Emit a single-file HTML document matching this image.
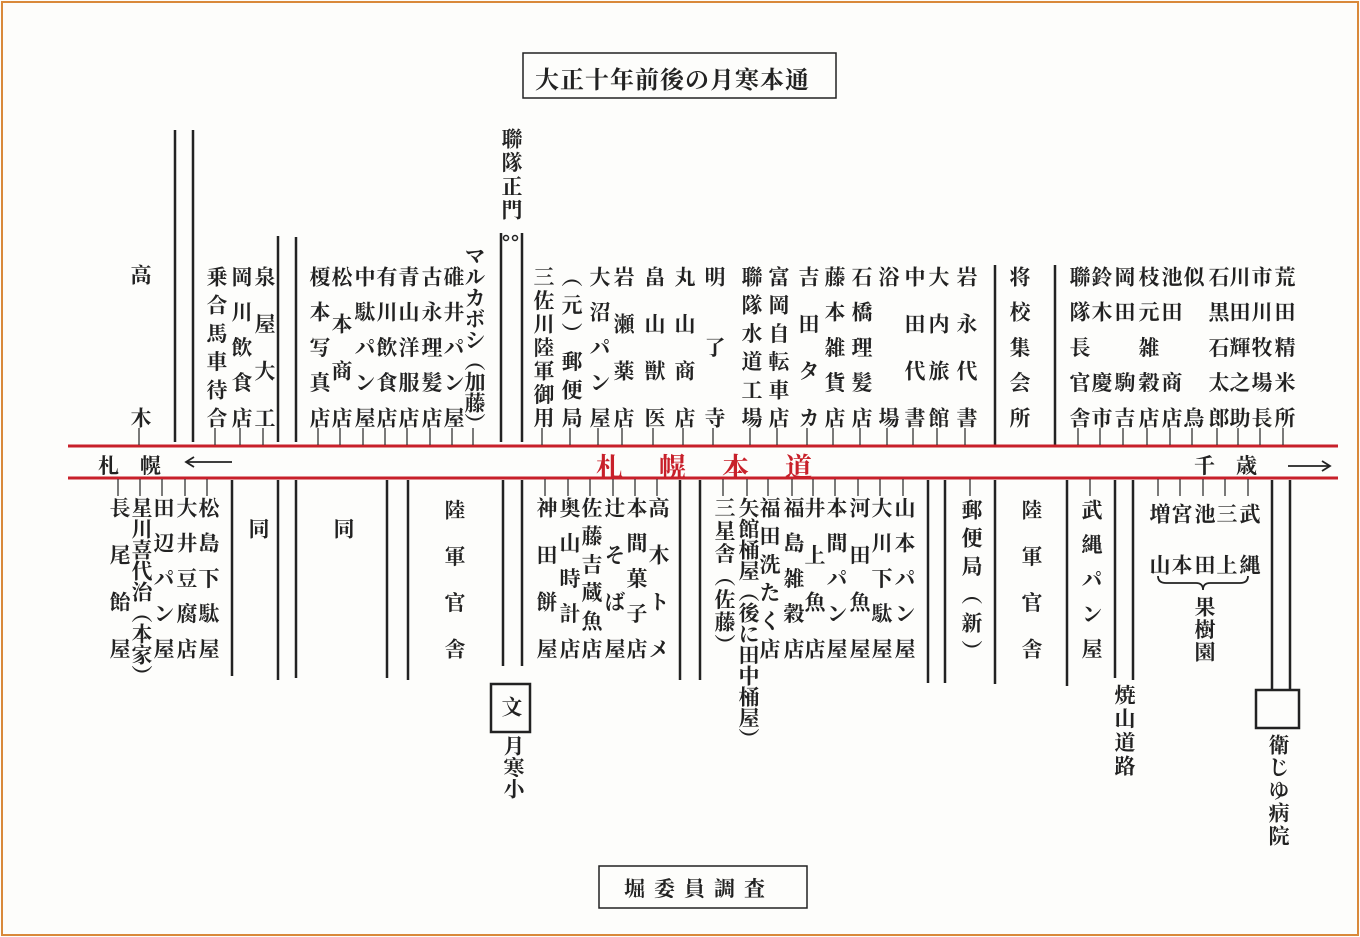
<!DOCTYPE html>
<html><head><meta charset="utf-8">
<style>
html,body{margin:0;padding:0;background:#fff;}
#p{position:relative;width:1360px;height:937px;overflow:hidden;background:#fdfdfb;}
#bd{position:absolute;left:1px;top:1px;width:1354px;height:931px;border:2px solid #d9893a;}
.c{position:absolute;writing-mode:vertical-rl;width:24px;font-family:"Liberation Serif","Noto Serif CJK SC",serif;font-size:21px;line-height:24px;font-weight:700;color:#222;text-align:justify;text-align-last:justify;white-space:nowrap;}
.t{position:absolute;font-family:"Liberation Serif","Noto Serif CJK SC",serif;color:#222;font-weight:700;white-space:nowrap;}
svg{position:absolute;left:0;top:0;}
</style></head><body><div id="p">
<div id="bd"></div>
<svg width="1360" height="937">
<g stroke="#222" stroke-width="2.5" fill="none">
<rect x="523" y="53" width="313" height="45" stroke-width="1.5"/>
<rect x="599" y="866" width="208" height="42" stroke-width="1.5"/>
<line x1="175" y1="130" x2="175" y2="442"/>
<line x1="193" y1="130" x2="193" y2="442"/>
<line x1="278" y1="236" x2="278" y2="442"/>
<line x1="296" y1="237" x2="296" y2="442"/>
<line x1="501" y1="233" x2="501" y2="442"/>
<line x1="522" y1="233" x2="522" y2="442"/>
<line x1="995" y1="265" x2="995" y2="445"/>
<line x1="1055" y1="265" x2="1055" y2="445"/>
<line x1="232" y1="480" x2="232" y2="676"/>
<line x1="278" y1="480" x2="278" y2="680"/>
<line x1="296" y1="480" x2="296" y2="678"/>
<line x1="387" y1="480" x2="387" y2="678"/>
<line x1="408" y1="480" x2="408" y2="680"/>
<line x1="503" y1="480" x2="503" y2="666"/>
<line x1="522" y1="480" x2="522" y2="666"/>
<line x1="680" y1="480" x2="680" y2="680"/>
<line x1="700" y1="480" x2="700" y2="680"/>
<line x1="928" y1="480" x2="928" y2="683"/>
<line x1="945" y1="480" x2="945" y2="683"/>
<line x1="995" y1="480" x2="995" y2="684"/>
<line x1="1067" y1="480" x2="1067" y2="686"/>
<line x1="1115" y1="480" x2="1115" y2="678"/>
<line x1="1133" y1="480" x2="1133" y2="680"/>
<line x1="1272" y1="480" x2="1272" y2="690"/>
<line x1="1290" y1="480" x2="1290" y2="690"/>
<rect x="491" y="684" width="39" height="48"/>
<rect x="1256" y="690" width="43" height="38"/>
<path d="M1158 576 q0 7 8 7 h30 q7 0 7 7 q0 -7 7 -7 h30 q8 0 8 -7" stroke-width="1.8"/>
</g>
<circle cx="506" cy="238" r="2.5" fill="none" stroke="#222" stroke-width="1.5"/>
<circle cx="515" cy="238" r="2.5" fill="none" stroke="#222" stroke-width="1.5"/>
<line x1="68" y1="446" x2="1338" y2="446" stroke="#c8202a" stroke-width="3"/>
<line x1="68" y1="478" x2="1338" y2="478" stroke="#c8202a" stroke-width="3"/>
<g stroke="#222" stroke-width="1.8" fill="none">
<line x1="186" y1="462" x2="232" y2="462"/><path d="M194 457 L186 462 L194 467"/>
<line x1="1288" y1="466" x2="1330" y2="466"/><path d="M1322 461 L1330 466 L1322 471"/>
</g>
<g stroke="#333" stroke-width="1.3">
<line x1="139" y1="428" x2="139" y2="445"/><line x1="215" y1="428" x2="215" y2="445"/><line x1="240" y1="428" x2="240" y2="445"/><line x1="263" y1="428" x2="263" y2="445"/>
<line x1="318" y1="428" x2="318" y2="445"/><line x1="340" y1="428" x2="340" y2="445"/><line x1="363" y1="428" x2="363" y2="445"/><line x1="385" y1="428" x2="385" y2="445"/><line x1="407" y1="428" x2="407" y2="445"/><line x1="430" y1="428" x2="430" y2="445"/><line x1="452" y1="428" x2="452" y2="445"/><line x1="473" y1="428" x2="473" y2="445"/>
<line x1="542" y1="428" x2="542" y2="445"/><line x1="570" y1="428" x2="570" y2="445"/><line x1="598" y1="428" x2="598" y2="445"/><line x1="622" y1="428" x2="622" y2="445"/><line x1="653" y1="428" x2="653" y2="445"/><line x1="683" y1="428" x2="683" y2="445"/><line x1="713" y1="428" x2="713" y2="445"/><line x1="750" y1="428" x2="750" y2="445"/><line x1="777" y1="428" x2="777" y2="445"/><line x1="807" y1="428" x2="807" y2="445"/><line x1="833" y1="428" x2="833" y2="445"/><line x1="860" y1="428" x2="860" y2="445"/><line x1="887" y1="428" x2="887" y2="445"/><line x1="913" y1="428" x2="913" y2="445"/><line x1="937" y1="428" x2="937" y2="445"/><line x1="965" y1="428" x2="965" y2="445"/>
<line x1="1078" y1="428" x2="1078" y2="445"/><line x1="1100" y1="428" x2="1100" y2="445"/><line x1="1123" y1="428" x2="1123" y2="445"/><line x1="1147" y1="428" x2="1147" y2="445"/><line x1="1170" y1="428" x2="1170" y2="445"/><line x1="1192" y1="428" x2="1192" y2="445"/><line x1="1217" y1="428" x2="1217" y2="445"/><line x1="1238" y1="428" x2="1238" y2="445"/><line x1="1260" y1="428" x2="1260" y2="445"/><line x1="1283" y1="428" x2="1283" y2="445"/>
<line x1="118" y1="479" x2="118" y2="496"/><line x1="140" y1="479" x2="140" y2="496"/><line x1="162" y1="479" x2="162" y2="496"/><line x1="185" y1="479" x2="185" y2="496"/><line x1="207" y1="479" x2="207" y2="496"/>
<line x1="545" y1="479" x2="545" y2="496"/><line x1="568" y1="479" x2="568" y2="496"/><line x1="590" y1="479" x2="590" y2="496"/><line x1="613" y1="479" x2="613" y2="496"/><line x1="635" y1="479" x2="635" y2="496"/><line x1="657" y1="479" x2="657" y2="496"/>
<line x1="723" y1="479" x2="723" y2="496"/><line x1="747" y1="479" x2="747" y2="496"/><line x1="768" y1="479" x2="768" y2="496"/><line x1="792" y1="479" x2="792" y2="496"/><line x1="813" y1="479" x2="813" y2="496"/><line x1="835" y1="479" x2="835" y2="496"/><line x1="858" y1="479" x2="858" y2="496"/><line x1="880" y1="479" x2="880" y2="496"/><line x1="903" y1="479" x2="903" y2="496"/>
<line x1="970" y1="479" x2="970" y2="496"/><line x1="1090" y1="479" x2="1090" y2="496"/>
<line x1="1158" y1="479" x2="1158" y2="496"/><line x1="1180" y1="479" x2="1180" y2="496"/><line x1="1203" y1="479" x2="1203" y2="496"/><line x1="1225" y1="479" x2="1225" y2="496"/><line x1="1248" y1="479" x2="1248" y2="496"/>
</g>
</svg>

<div class="t" style="left:535px;top:60px;font-size:24px;letter-spacing:1px;">大正十年前後の月寒本通</div>
<div class="t" style="left:624px;top:873px;font-size:21px;letter-spacing:9px;">堀委員調査</div>
<div class="t" style="left:98px;top:450px;font-size:21px;">札　幌</div>
<div class="t" style="left:596px;top:446px;font-size:27px;color:#c8202a;font-weight:700;letter-spacing:36px;">札幌本道</div>
<div class="t" style="left:1194px;top:450px;font-size:21px;">千　歳</div>

<div class="c" style="left:128px;top:264px;height:164px">高木</div>
<div class="c" style="left:204px;top:266px;height:162px">乗合馬車待合</div>
<div class="c" style="left:229px;top:266px;height:162px">岡川飲食店</div>
<div class="c" style="left:252px;top:266px;height:162px">泉屋大工</div>
<div class="c" style="left:307px;top:266px;height:162px">榎本写真店</div>
<div class="c" style="left:329px;top:266px;height:162px">松本商店</div>
<div class="c" style="left:352px;top:266px;height:162px">中駄パン屋</div>
<div class="c" style="left:374px;top:266px;height:162px">有川飲食店</div>
<div class="c" style="left:396px;top:266px;height:162px">青山洋服店</div>
<div class="c" style="left:419px;top:266px;height:162px">古永理髪店</div>
<div class="c" style="left:441px;top:266px;height:162px">碓井パン屋</div>
<div class="c" style="left:462px;top:245px;height:182px">マルカボシ（加藤）</div>
<div class="c" style="left:499px;top:128px;height:92px">聯隊正門</div>
<div class="c" style="left:531px;top:266px;height:162px">三佐川陸軍御用</div>
<div class="c" style="left:559px;top:266px;height:162px">（元）郵便局</div>
<div class="c" style="left:587px;top:266px;height:162px">大沼パン屋</div>
<div class="c" style="left:611px;top:266px;height:162px">岩瀬薬店</div>
<div class="c" style="left:642px;top:266px;height:162px">畠山獣医</div>
<div class="c" style="left:672px;top:266px;height:162px">丸山商店</div>
<div class="c" style="left:702px;top:266px;height:162px">明了寺</div>
<div class="c" style="left:739px;top:266px;height:162px">聯隊水道工場</div>
<div class="c" style="left:766px;top:266px;height:162px">富岡自転車店</div>
<div class="c" style="left:796px;top:266px;height:162px">吉田タカ</div>
<div class="c" style="left:822px;top:266px;height:162px">藤本雑貨店</div>
<div class="c" style="left:849px;top:266px;height:162px">石橋理髪店</div>
<div class="c" style="left:876px;top:266px;height:162px">浴場</div>
<div class="c" style="left:902px;top:266px;height:162px">中田代書</div>
<div class="c" style="left:926px;top:266px;height:162px">大内旅館</div>
<div class="c" style="left:954px;top:266px;height:162px">岩永代書</div>
<div class="c" style="left:1007px;top:266px;height:162px">将校集会所</div>
<div class="c" style="left:1067px;top:266px;height:162px">聯隊長官舎</div>
<div class="c" style="left:1089px;top:266px;height:162px">鈴木　慶市</div>
<div class="c" style="left:1112px;top:266px;height:162px">岡田　駒吉</div>
<div class="c" style="left:1136px;top:266px;height:162px">枝元雑穀店</div>
<div class="c" style="left:1159px;top:266px;height:162px">池田　商店</div>
<div class="c" style="left:1181px;top:266px;height:162px">似鳥</div>
<div class="c" style="left:1206px;top:266px;height:162px">石黒石太郎</div>
<div class="c" style="left:1227px;top:266px;height:162px">川田輝之助</div>
<div class="c" style="left:1249px;top:266px;height:162px">市川牧場長</div>
<div class="c" style="left:1272px;top:266px;height:162px">荒田精米所</div>

<div class="c" style="left:107px;top:497px;height:162px">長尾飴屋</div>
<div class="c" style="left:129px;top:497px;height:182px">星川喜代治（本家）</div>
<div class="c" style="left:151px;top:497px;height:162px">田辺パン屋</div>
<div class="c" style="left:174px;top:497px;height:162px">大井豆腐店</div>
<div class="c" style="left:196px;top:497px;height:162px">松島下駄屋</div>
<div class="c" style="left:246px;top:518px;height:26px">同</div>
<div class="c" style="left:331px;top:518px;height:26px">同</div>
<div class="c" style="left:442px;top:499px;height:160px">陸軍官舎</div>
<div class="c" style="left:534px;top:497px;height:162px">神田餅屋</div>
<div class="c" style="left:557px;top:497px;height:162px">奥山時計店</div>
<div class="c" style="left:579px;top:497px;height:162px">佐藤吉蔵魚店</div>
<div class="c" style="left:602px;top:497px;height:162px">辻そば屋</div>
<div class="c" style="left:624px;top:497px;height:162px">本間菓子店</div>
<div class="c" style="left:646px;top:497px;height:162px">高木トメ</div>
<div class="c" style="left:712px;top:497px;height:158px">三星舎（佐藤）</div>
<div class="c" style="left:736px;top:497px;height:252px">矢館桶屋（後に田中桶屋）</div>
<div class="c" style="left:757px;top:497px;height:162px">福田洗たく店</div>
<div class="c" style="left:781px;top:497px;height:162px">福島雑穀店</div>
<div class="c" style="left:802px;top:497px;height:162px">井上魚店</div>
<div class="c" style="left:824px;top:497px;height:162px">本間パン屋</div>
<div class="c" style="left:847px;top:497px;height:162px">河田魚屋</div>
<div class="c" style="left:869px;top:497px;height:162px">大川下駄屋</div>
<div class="c" style="left:892px;top:497px;height:162px">山本パン屋</div>
<div class="c" style="left:959px;top:499px;height:162px">郵便局（新）</div>
<div class="c" style="left:1019px;top:499px;height:160px">陸軍官舎</div>
<div class="c" style="left:1079px;top:499px;height:160px">武縄パン屋</div>
<div class="c" style="left:1147px;top:503px;height:72px">増山</div>
<div class="c" style="left:1169px;top:503px;height:72px">宮本</div>
<div class="c" style="left:1192px;top:503px;height:72px">池田</div>
<div class="c" style="left:1214px;top:503px;height:72px">三上</div>
<div class="c" style="left:1237px;top:503px;height:72px">武縄</div>
<div class="c" style="left:1192px;top:596px;height:66px">果樹園</div>
<div class="c" style="left:499px;top:696px;height:26px">文</div>
<div class="c" style="left:501px;top:735px;height:64px">月寒小</div>
<div class="c" style="left:1112px;top:684px;height:92px">焼山道路</div>
<div class="c" style="left:1266px;top:734px;height:112px">衛じゆ病院</div>
</div></body></html>
